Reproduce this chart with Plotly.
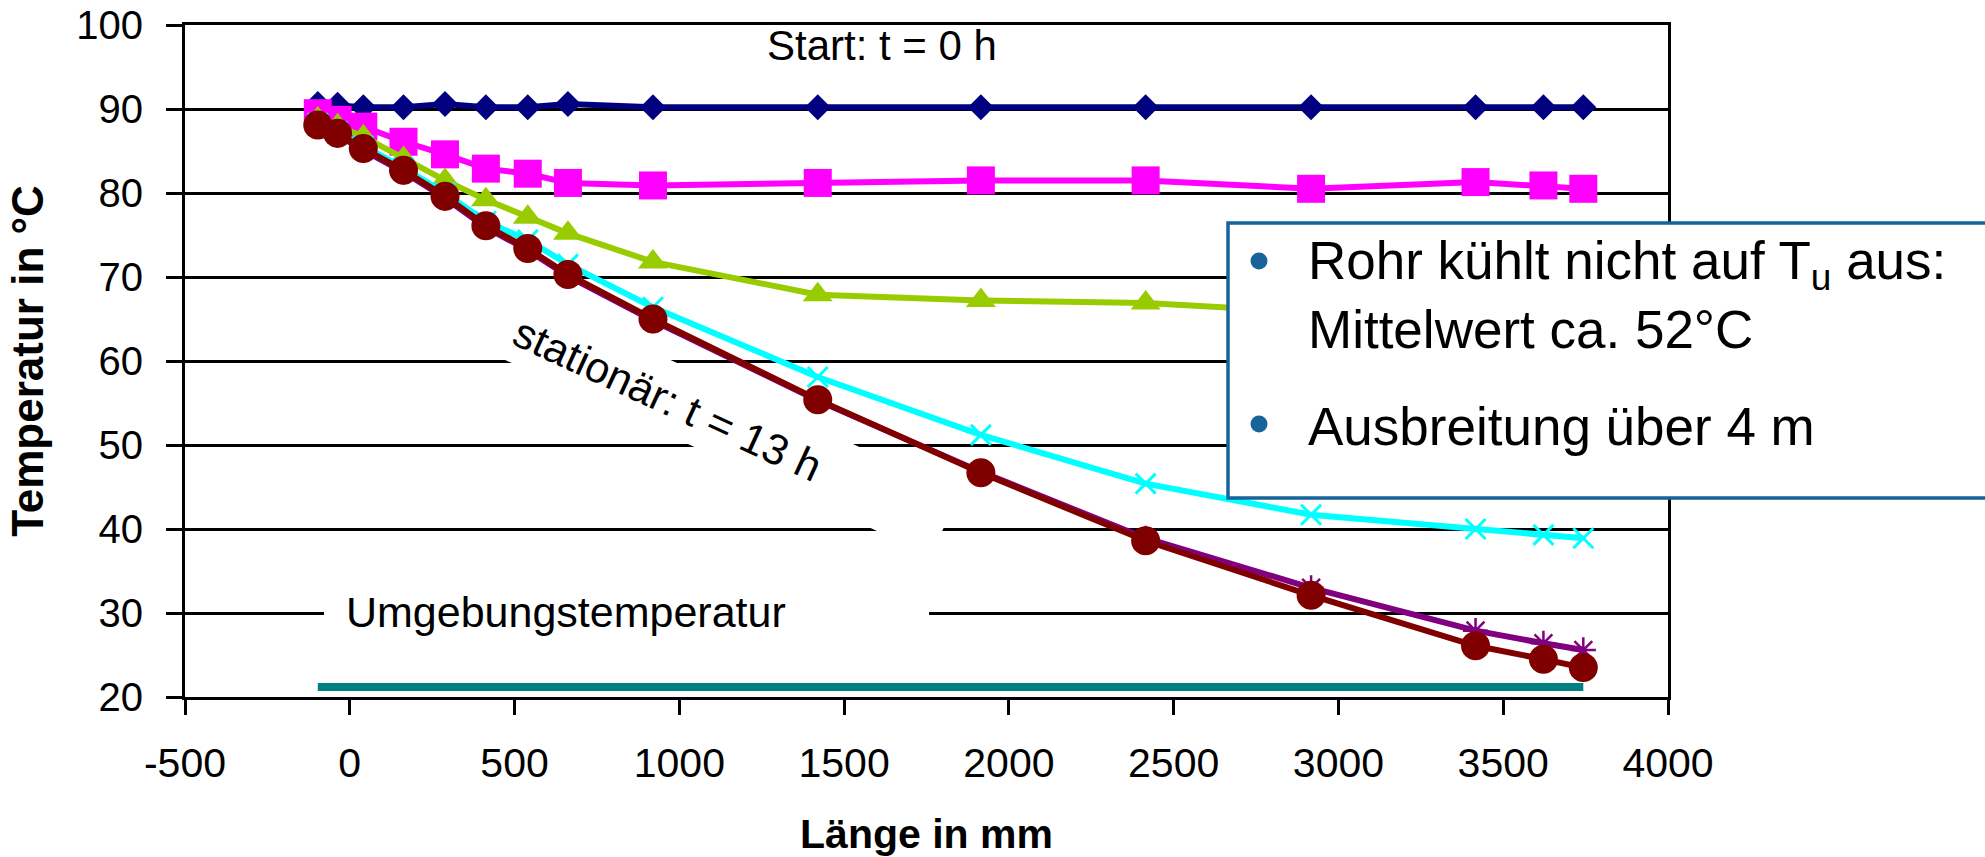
import math
import plotly.graph_objects as go

# ---------------- data ----------------
x_mm = [-97, -37, 41, 163, 289, 413, 540, 662, 920, 1420, 1915, 2415, 2917, 3416, 3622, 3743]

t_start = [90.6, 90.5, 90.2, 90.2, 90.6, 90.2, 90.2, 90.6, 90.2, 90.2, 90.2, 90.2, 90.2, 90.2, 90.2, 90.2]
t_pink = [89.5, 88.7, 87.9, 86.1, 84.6, 82.9, 82.3, 81.2, 80.9, 81.2, 81.5, 81.5, 80.5, 81.3, 80.9, 80.5]
t_green = [88.8, 88.0, 86.7, 84.1, 81.5, 79.2, 77.1, 75.2, 71.8, 67.9, 67.2, 66.9, 65.8, 65.0, 64.7, 64.5]
t_cyan = [88.3, 87.3, 85.6, 83.0, 80.0, 76.6, 74.4, 71.5, 66.4, 58.1, 51.2, 45.4, 41.7, 40.0, 39.3, 38.9]
t_purple = [88.0, 86.9, 85.1, 82.5, 79.4, 75.9, 73.2, 70.1, 64.8, 55.3, 46.8, 38.9, 33.0, 27.9, 26.4, 25.6]
t_stat = [88.1, 87.1, 85.3, 82.7, 79.6, 76.1, 73.4, 70.3, 65.0, 55.4, 46.7, 38.6, 32.1, 26.1, 24.5, 23.5]

ambient_x = [-97, 3743]
ambient_y = [21.2, 21.2]

x_tickvals = [-500, 0, 500, 1000, 1500, 2000, 2500, 3000, 3500, 4000]
x_ticktext = ["-500", "0", "500", "1000", "1500", "2000", "2500", "3000", "3500", "4000"]
y_tickvals = [20, 30, 40, 50, 60, 70, 80, 90, 100]
y_ticktext = ["20", "30", "40", "50", "60", "70", "80", "90", "100"]

# ---------------- layout geometry ----------------
W, H = 1985, 857
ML, MR, MT, MB = 185, 317, 25, 160
PW = W - ML - MR
PH = H - MT - MB
FONT = "Liberation Sans, Arial, sans-serif"


def px_x(px):
    return (px - ML) / PW


def px_y(py):
    return (H - MB - py) / PH


fig = go.Figure()

fig.add_trace(go.Scatter(x=ambient_x, y=ambient_y, mode="lines",
                         line=dict(color="#008080", width=8), name="Umgebung"))
fig.add_trace(go.Scatter(x=x_mm, y=t_start, mode="lines+markers",
                         line=dict(color="#000080", width=6),
                         marker=dict(symbol="diamond", size=20, color="#000080"),
                         name="t = 0 h"))
fig.add_trace(go.Scatter(x=x_mm, y=t_pink, mode="lines+markers",
                         line=dict(color="#FF00FF", width=6),
                         marker=dict(symbol="square", size=28, color="#FF00FF"),
                         name="pink"))
fig.add_trace(go.Scatter(x=x_mm, y=t_green, mode="lines+markers",
                         line=dict(color="#99CC00", width=6),
                         marker=dict(symbol="triangle-up", size=26, color="#99CC00"),
                         name="green"))
fig.add_trace(go.Scatter(x=x_mm, y=t_cyan, mode="lines+markers",
                         line=dict(color="#00FFFF", width=6),
                         marker=dict(symbol="x-thin", size=20, color="#00FFFF",
                                     line=dict(color="#00FFFF", width=3)),
                         name="cyan"))
fig.add_trace(go.Scatter(x=x_mm, y=t_purple, mode="lines+markers",
                         line=dict(color="#800080", width=6),
                         marker=dict(symbol="asterisk", size=21, color="#800080",
                                     line=dict(color="#800080", width=2.5)),
                         name="purple"))
fig.add_trace(go.Scatter(x=x_mm, y=t_stat, mode="lines+markers",
                         line=dict(color="#800000", width=6),
                         marker=dict(symbol="circle", size=29, color="#800000"),
                         name="stationär"))

# ---------------- decorations ----------------
shapes = []

# rotated white background behind "stationär: t = 13 h" (hides gridlines)
theta = math.radians(24.7)
dx, dy = math.cos(theta), math.sin(theta)
nx, ny = -math.sin(theta), math.cos(theta)
cx0, cy0 = 590, 361
hh = 34.5
t0, t1 = -100, 391
corners = []
for (t, s) in [(t0, -hh), (t1, -hh), (t1, hh), (t0, hh)]:
    corners.append((cx0 + t * dx + s * nx, cy0 + t * dy + s * ny))
path = "M " + " L ".join(f"{px_x(a):.5f},{px_y(b):.5f}" for a, b in corners) + " Z"
shapes.append(dict(type="path", path=path, xref="paper", yref="paper",
                   fillcolor="white", line=dict(width=0), layer="above"))

# white background behind "Umgebungstemperatur"
shapes.append(dict(type="rect", xref="paper", yref="paper",
                   x0=px_x(324), x1=px_x(929), y0=px_y(640), y1=px_y(588),
                   fillcolor="white", line=dict(width=0), layer="above"))

# text box (bullet list)
BOX_COL = "#16649A"
shapes.append(dict(type="rect", xref="paper", yref="paper",
                   x0=px_x(1228), x1=px_x(2300), y0=px_y(498), y1=px_y(223),
                   fillcolor="white", line=dict(color=BOX_COL, width=3.5), layer="above"))
for by in (261, 424):
    shapes.append(dict(type="circle", xref="paper", yref="paper",
                       xsizemode="pixel", ysizemode="pixel",
                       xanchor=px_x(1259), yanchor=px_y(by),
                       x0=-8.5, x1=8.5, y0=-8.5, y1=8.5,
                       fillcolor=BOX_COL, line=dict(width=0), layer="above"))

annotations = [
    dict(text="Start: t = 0 h", xref="paper", yref="paper",
         x=px_x(882), y=px_y(20), xanchor="center", yanchor="top",
         showarrow=False, font=dict(family=FONT, size=42, color="black")),
    dict(text="stationär: t = 13 h", xref="paper", yref="paper",
         x=px_x(667), y=px_y(399), xanchor="center", yanchor="middle",
         textangle=24.7, showarrow=False,
         font=dict(family=FONT, size=43, color="black")),
    dict(text="Umgebungstemperatur", xref="paper", yref="paper",
         x=px_x(344), y=px_y(586), xanchor="left", yanchor="top",
         showarrow=False, font=dict(family=FONT, size=43, color="black")),
    dict(text="Rohr kühlt nicht auf T<sub>u</sub> aus:", xref="paper", yref="paper",
         x=px_x(1306), y=px_y(229), xanchor="left", yanchor="top",
         showarrow=False, font=dict(family=FONT, size=53, color="black")),
    dict(text="Mittelwert ca. 52°C", xref="paper", yref="paper",
         x=px_x(1306), y=px_y(298), xanchor="left", yanchor="top",
         showarrow=False, font=dict(family=FONT, size=53, color="black")),
    dict(text="Ausbreitung über 4 m", xref="paper", yref="paper",
         x=px_x(1306), y=px_y(395), xanchor="left", yanchor="top",
         showarrow=False, font=dict(family=FONT, size=53, color="black")),
]

fig.update_layout(
    width=W, height=H,
    margin=dict(l=ML, r=MR, t=MT, b=MB, autoexpand=False),
    paper_bgcolor="white", plot_bgcolor="white",
    showlegend=False,
    font=dict(family=FONT, color="black"),
    shapes=shapes,
    annotations=annotations,
)

fig.update_xaxes(
    range=[-500, 4000], tickmode="array", tickvals=x_tickvals, ticktext=x_ticktext,
    showgrid=False, zeroline=False,
    showline=True, linecolor="black", linewidth=3, mirror=True,
    ticks="outside", ticklen=15, tickwidth=2.5, tickcolor="black",
    tickfont=dict(family=FONT, size=41, color="black"), ticklabelstandoff=13,
    title=dict(text="<b>Länge in mm</b>", font=dict(family=FONT, size=41, color="black"),
               standoff=36),
    automargin=False,
)
fig.update_yaxes(
    range=[20, 100], tickmode="array", tickvals=y_tickvals, ticktext=y_ticktext,
    showgrid=True, gridcolor="black", gridwidth=2.5, zeroline=False,
    showline=True, linecolor="black", linewidth=3, mirror=True,
    ticks="outside", ticklen=16, tickwidth=2.5, tickcolor="black",
    tickfont=dict(family=FONT, size=40, color="black"), ticklabelstandoff=15,
    title=dict(text="<b>Temperatur in °C</b>", font=dict(family=FONT, size=44, color="black"),
               standoff=19),
    automargin=False,
)

fig.write_html("out.html", config={"displayModeBar": False},
               post_script="document.body.style.margin='0px';document.body.style.overflow='hidden';")
